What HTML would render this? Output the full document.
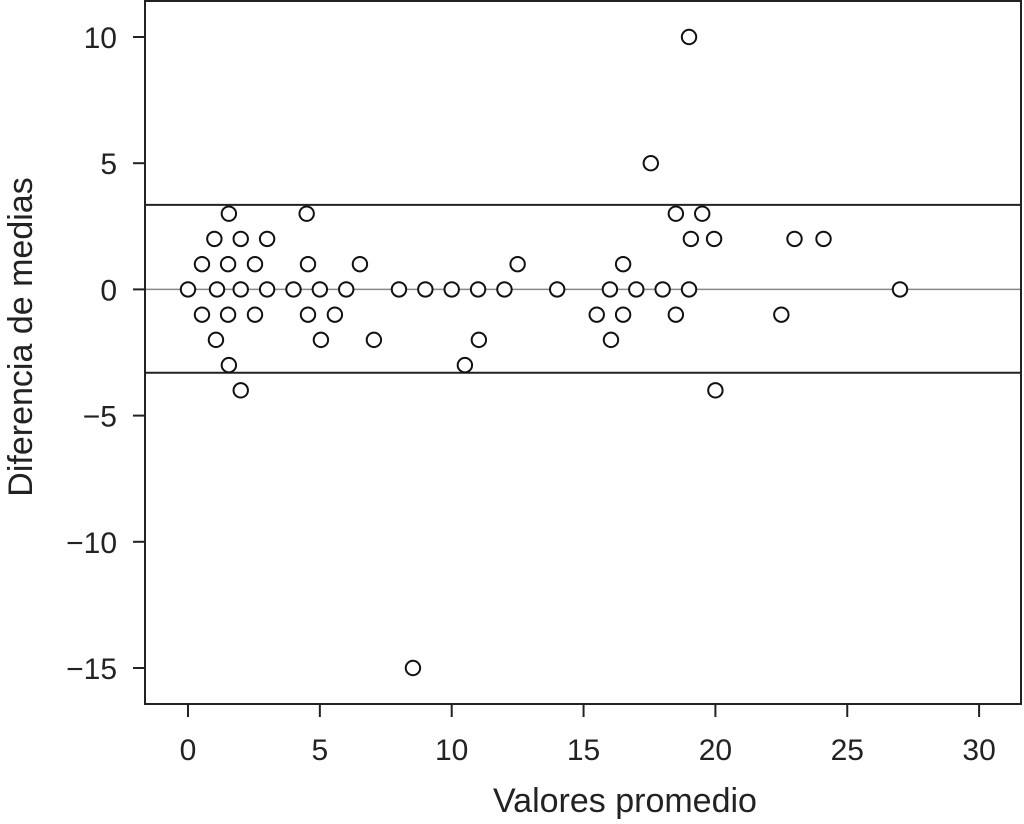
<!DOCTYPE html>
<html><head><meta charset="utf-8"><style>
body{margin:0;background:#fff;}
svg{display:block;font-family:"Liberation Sans",sans-serif;}
</style></head><body>
<svg id="chart" width="1024" height="824">
<rect x="145" y="1" width="876" height="703" fill="none" stroke="#222" stroke-width="2"/>
<g id="axes"></g>
<g id="lines"></g>
<g id="points"></g>
<text x="625" y="812" text-anchor="middle" font-size="34" fill="#222">Valores promedio</text>
<text transform="translate(32,337) rotate(-90)" text-anchor="middle" font-size="34" fill="#222">Diferencia de medias</text>
</svg>
<script>
const xTicks=[0,5,10,15,20,25,30];
const yTicks=[10,5,0,-5,-10,-15];
const yTickLabels=["10","5","0","\u22125","\u221210","\u221215"];
const xVals=[0,1.1,2,3,4,5,6,8,9,10,11,12,14,16,17,18,19,27,
0.53,1.52,2.54,4.55,6.52,12.5,16.5,
1,2,3,19.07,19.95,23,24.1,
1.55,4.5,18.5,19.5,
17.55,19,
0.53,1.52,2.54,4.55,5.57,15.5,16.5,18.5,22.5,
1.06,5.04,7.05,11.03,16.04,
1.55,10.5,
2,20,
8.53];
const yVals=[0,0,0,0,0,0,0,0,0,0,0,0,0,0,0,0,0,0,
1,1,1,1,1,1,1,
2,2,2,2,2,2,2,
3,3,3,3,
5,10,
-1,-1,-1,-1,-1,-1,-1,-1,-1,
-2,-2,-2,-2,-2,
-3,-3,
-4,-4,
-15];
const meanDiff=0;
const upperLimit=3.35;
const lowerLimit=-3.3;
const sx=v=>188+v*26.37;
const sy=v=>289.4-v*25.24;
const NS="http://www.w3.org/2000/svg";
function mk(tag,attrs,parent){const e=document.createElementNS(NS,tag);for(const k in attrs)e.setAttribute(k,attrs[k]);parent.appendChild(e);return e;}
const axes=document.getElementById('axes');
xTicks.forEach(t=>{
 const l=mk('line',{x1:sx(t),x2:sx(t),y1:704,y2:717,stroke:'#222','stroke-width':2},axes);
 
 
 const tx=mk('text',{x:sx(t),y:760,'text-anchor':'middle','font-size':30,fill:'#222'},axes);
 tx.textContent=t;
 
 
});
yTicks.forEach((t,i)=>{
 const l=mk('line',{x1:133,x2:145,y1:sy(t),y2:sy(t),stroke:'#222','stroke-width':2},axes);
 
 
 const tx=mk('text',{x:117,y:sy(t)+11,'text-anchor':'end','font-size':30,fill:'#222'},axes);
 tx.textContent=yTickLabels[i];
 
 
});
const lines=document.getElementById('lines');
const m=mk('line',{x1:146,x2:1020,y1:sy(meanDiff),y2:sy(meanDiff),stroke:'#888','stroke-width':1.5},lines);


const u=mk('line',{x1:146,x2:1020,y1:sy(upperLimit),y2:sy(upperLimit),stroke:'#222','stroke-width':2},lines);


const lo=mk('line',{x1:146,x2:1020,y1:sy(lowerLimit),y2:sy(lowerLimit),stroke:'#222','stroke-width':2},lines);


const pts=document.getElementById('points');
xVals.forEach((x,i)=>{
 const c=mk('circle',{cx:sx(x),cy:sy(yVals[i]),r:7.2,fill:'#fff',stroke:'#111','stroke-width':2},pts);
 
 
});
</script>
</body></html>
